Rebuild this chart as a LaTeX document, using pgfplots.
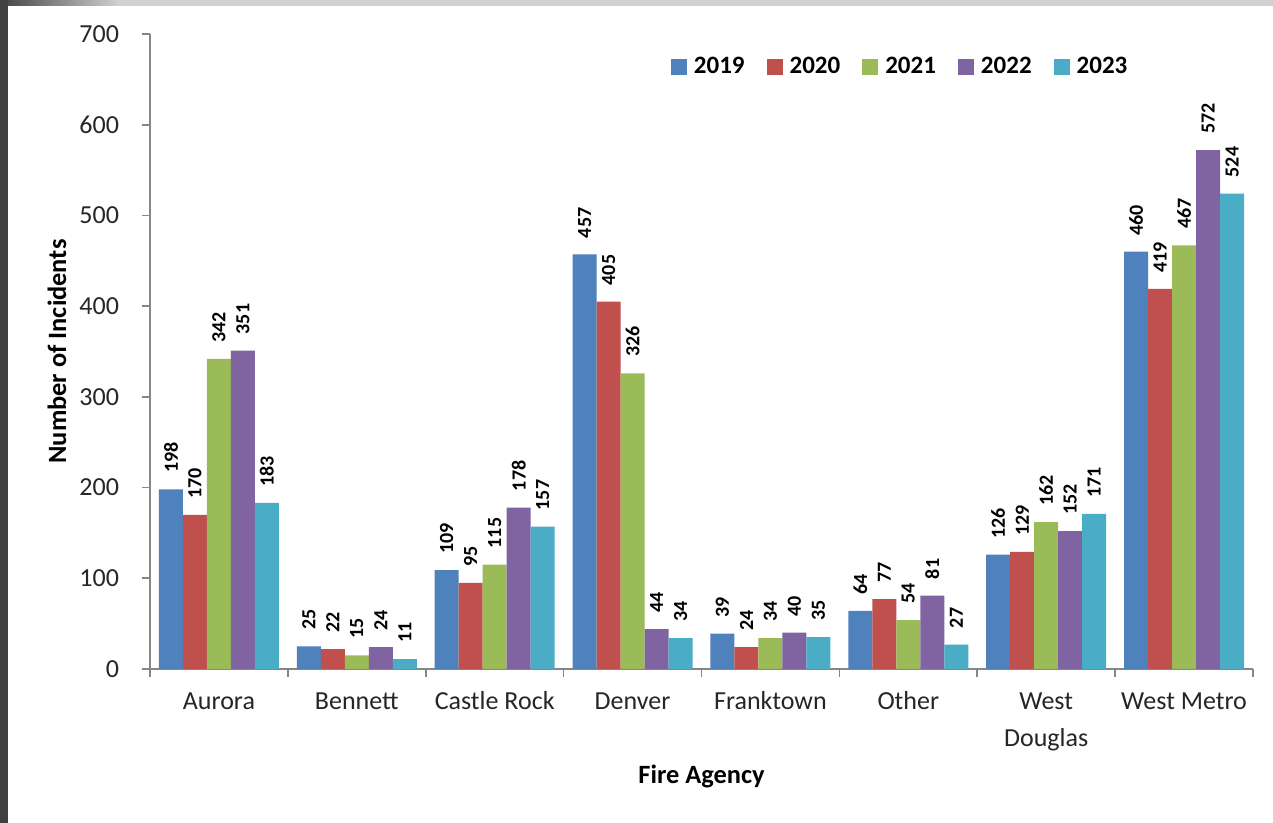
\documentclass[border=0pt]{standalone}
\usepackage{fontspec}
\setmainfont{Carlito}
\usepackage{pgfplots}
\pgfplotsset{compat=1.18}
\definecolor{c19}{HTML}{4F81BD}
\definecolor{c20}{HTML}{C0504D}
\definecolor{c21}{HTML}{9BBB59}
\definecolor{c22}{HTML}{8064A2}
\definecolor{c23}{HTML}{4BACC6}
\definecolor{axgray}{HTML}{868686}
\pgfplotsset{mylegend/.style={legend image code/.code={\fill[##1] (0pt,-4pt) rectangle (8pt,4pt);}}}
\begin{document}
\begin{tikzpicture}
\useasboundingbox (0,0) rectangle (636.5pt,411.5pt);
\fill[white] (0,0) rectangle (636.5pt,411.5pt);
\fill[black!75] (0,0) rectangle (4pt,411.5pt);
\shade[left color=black!70, right color=black!18] (4pt,408.5pt) rectangle (60pt,411.5pt);
\fill[black!18] (60pt,408.5pt) rectangle (636.5pt,411.5pt);
\begin{axis}[
  at={(75pt,77pt)}, anchor=south west,
  scale only axis, width=551.5pt, height=317.5pt,
  ybar=0pt, bar width=0.174,
  xmin=-0.5, xmax=7.5, ymin=0, ymax=700,
  ytick={0,100,...,700},
  xtick={0,...,7},
  xticklabels={\strut Aurora,\strut Bennett,\strut Castle Rock,\strut Denver,\strut Franktown,\strut Other,{\strut West\\Douglas},\strut West Metro},
  major x tick style={draw=none},
  minor xtick={-0.5,0.5,...,7.5},
  axis x line*=bottom, axis y line*=left,
  axis line style={draw=axgray, line width=0.8pt, -},
  tick style={draw=axgray, line width=0.8pt},
  minor tick style={draw=axgray, line width=0.8pt},
  tick align=outside,
  major tick length=4pt, minor tick length=4pt,
  /pgf/number format/assume math mode=true,
  tick label style={font=\fontsize{13}{18.5}\selectfont, text=black!85},
  xticklabel style={align=center, yshift=0pt},
  yticklabel style={xshift=-8pt},
  ylabel={Number of Incidents},
  xlabel={Fire Agency},
  ylabel style={font=\fontsize{13.2}{15}\bfseries, at={(axis description cs:-0.0843,0.5)}, anchor=center},
  xlabel style={font=\fontsize{13.2}{15}\bfseries, at={(axis description cs:0.5,-0.17)}, anchor=center},
  nodes near coords,
  every node near coord/.append style={rotate=90, anchor=west, font=\fontsize{10}{12}\bfseries, text=black, inner xsep=8pt, inner ysep=1pt},
  legend style={at={(0.681,0.948)}, anchor=center, draw=none, fill=none, font=\fontsize{12.5}{15}\bfseries,
    /tikz/every even column/.append style={column sep=9pt},
    /tikz/every odd column/.append style={column sep=1.5pt}},
  legend columns=5,
]
\addplot[fill=c19, draw=none, mylegend] coordinates {(0,198) (1,25) (2,109) (3,457) (4,39) (5,64) (6,126) (7,460)};
\addplot[fill=c20, draw=none, mylegend] coordinates {(0,170) (1,22) (2,95) (3,405) (4,24) (5,77) (6,129) (7,419)};
\addplot[fill=c21, draw=none, mylegend] coordinates {(0,342) (1,15) (2,115) (3,326) (4,34) (5,54) (6,162) (7,467)};
\addplot[fill=c22, draw=none, mylegend] coordinates {(0,351) (1,24) (2,178) (3,44) (4,40) (5,81) (6,152) (7,572)};
\addplot[fill=c23, draw=none, mylegend] coordinates {(0,183) (1,11) (2,157) (3,34) (4,35) (5,27) (6,171) (7,524)};
\legend{2019,2020,2021,2022,2023}
\end{axis}
\end{tikzpicture}
\end{document}
